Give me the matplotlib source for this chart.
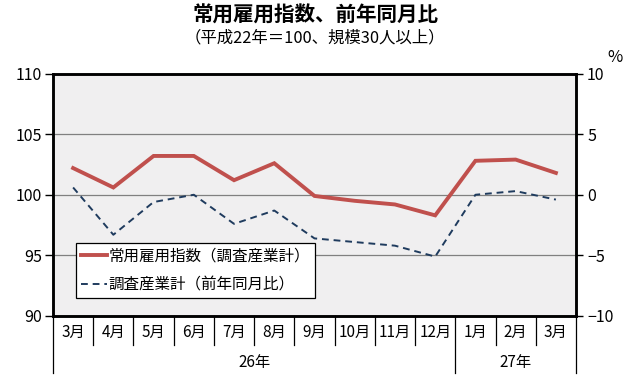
import matplotlib
matplotlib.use("Agg")
import matplotlib.pyplot as plt

plt.rcParams['font.family'] = ['Noto Sans CJK JP', 'DejaVu Sans']

months = ["3月", "4月", "5月", "6月", "7月", "8月", "9月",
          "10月", "11月", "12月", "1月", "2月", "3月"]
years = ["26年", "27年"]
year_spans = [(0, 9), (10, 12)]

index_values = [102.2, 100.6, 103.2, 103.2, 101.2, 102.6, 99.9,
                99.5, 99.2, 98.3, 102.8, 102.9, 101.8]
yoy_values = [0.6, -3.3, -0.6, 0.0, -2.4, -1.3, -3.6,
              -3.9, -4.2, -5.1, 0.0, 0.3, -0.4]

fig = plt.figure(figsize=(6.3, 3.8), dpi=100)
ax = fig.add_axes([53 / 630, 64 / 380, 523 / 630, 242.5 / 380])
ax2 = ax.twinx()

x = list(range(len(months)))

ax.set_facecolor("#f0eff0")
ax.set_xlim(-0.5, len(months) - 0.5)
ax.set_ylim(90, 110)
ax.set_yticks([90, 95, 100, 105, 110])
ax.grid(axis="y", color="#808080", linewidth=0.9)
ax.set_axisbelow(True)
ax.set_xticks([])
ax2.set_ylim(-10, 10)
ax2.set_yticks([-10, -5, 0, 5, 10])

for a in (ax, ax2):
    for s in a.spines.values():
        s.set_linewidth(1.8)
        s.set_color("black")
ax.tick_params(axis="y", direction="out", length=6, width=1, labelsize=11.5, pad=2)
ax2.tick_params(axis="y", direction="out", length=5, width=1, labelsize=11.5, pad=3)

l1, = ax.plot(x, index_values, color="#c0504d", linewidth=2.8,
              solid_joinstyle="miter", label="常用雇用指数（調査産業計）", zorder=4)
l2, = ax2.plot(x, yoy_values, color="#1f3b5e", linewidth=1.4,
               linestyle=(0, (3.5, 2.5)), label="調査産業計（前年同月比）", zorder=3)

leg = ax2.legend(handles=[l1, l2], loc="lower left",
                 bbox_to_anchor=(23 / 523, 18 / 242.5), fontsize=11.2,
                 frameon=True, fancybox=False, borderpad=0.3,
                 handlelength=1.7, handletextpad=0.1, labelspacing=0.75,
                 borderaxespad=0)
leg.get_frame().set_edgecolor("black")
leg.get_frame().set_linewidth(0.9)
leg.get_frame().set_facecolor("white")
leg.get_frame().set_alpha(1)
leg.set_zorder(10)

# category table below the axis
trans = ax.get_xaxis_transform()
h = 242.5
for k in range(len(months) + 1):
    xb = k - 0.5
    long_line = k in (0, 10, len(months))
    y_end = -57 / h if long_line else -29 / h
    ax.plot([xb, xb], [0, y_end], color="black", linewidth=0.9,
            transform=trans, clip_on=False)
for i, m in enumerate(months):
    ax.text(i, -16 / h, m, transform=trans, ha="center", va="center",
            fontsize=11)
for yr, (a, b) in zip(years, year_spans):
    ax.text((a + b) / 2, -46 / h, yr, transform=trans, ha="center",
            va="center", fontsize=11)

fig.text(0.5, 1 - 15 / 380, "常用雇用指数、前年同月比", ha="center", va="center",
         fontsize=14.8, fontweight="bold")
fig.text(0.5, 1 - 38 / 380, "（平成22年＝100、規模30人以上）", ha="center",
         va="center", fontsize=11.8)
fig.text(615 / 630, 1 - 58 / 380, "%", ha="center", va="center", fontsize=12)

fig.savefig("out.png", dpi=100)
plt.close(fig)
